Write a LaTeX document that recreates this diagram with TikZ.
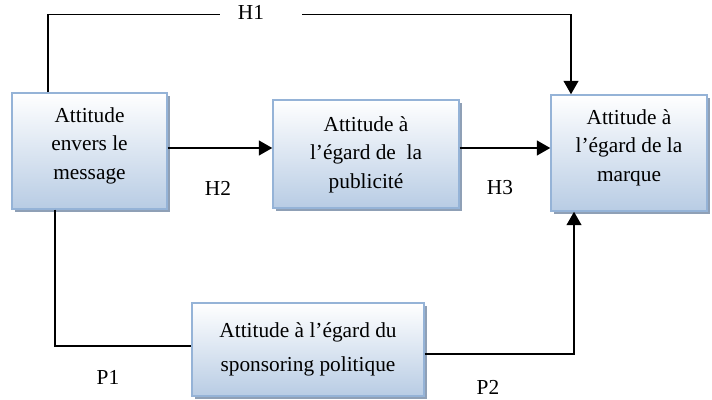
\documentclass[tikz,border=0pt]{standalone}
\usepackage{fontspec}
\setmainfont{Liberation Serif}
\usetikzlibrary{arrows.meta,shadows,calc}
\definecolor{boxborder}{HTML}{95B3D7}
\definecolor{boxbottom}{HTML}{B8CCE4}
\definecolor{boxshadow}{HTML}{8FA0B6}
\tikzset{
  box/.style={draw=boxborder, line width=1.1pt, top color=white, bottom color=boxbottom,
    drop shadow={shadow xshift=2.5pt, shadow yshift=-2.5pt, fill=boxshadow, opacity=1},
    align=center, inner sep=0pt, font=\fontsize{16pt}{21.4pt}\selectfont},
  conn/.style={line width=1.4pt, draw=black},
  arr/.style={conn, -{Triangle[width=11pt,length=10pt]}},
  lab/.style={font=\fontsize{16pt}{19pt}\selectfont, inner sep=0pt}
}
\begin{document}
\begin{tikzpicture}[x=0.75pt,y=-0.75pt]
\useasboundingbox[fill=white] (0,0) rectangle (712,399);
\node[box, minimum width=116.25pt, minimum height=87pt] (b1) at (89.5,151)
  {\raisebox{4.5pt}[\height][\depth]{\begin{tabular}{@{}c@{}}Attitude\\envers le\\message\end{tabular}}};
\node[box, minimum width=139.5pt, minimum height=81pt] (b2) at (366,154)
  {\begin{tabular}{@{}c@{}}Attitude à\\l’égard de\ \ la\\publicité\end{tabular}};
\node[box, minimum width=117pt, minimum height=87pt] (b3) at (629,153)
  {\raisebox{4.5pt}[\height][\depth]{\begin{tabular}{@{}c@{}}Attitude à\\l’égard de la\\marque\end{tabular}}};
\node[box, minimum width=174pt, minimum height=69.75pt, font=\fontsize{16pt}{26pt}\selectfont] (b4) at (308,349.5)
  {\raisebox{1.5pt}[\height][\depth]{\begin{tabular}{@{}c@{}}Attitude à l’égard du\\sponsoring politique\end{tabular}}};

\coordinate (h1a) at (220,14.5);
\coordinate (h1b) at (302,14.5);
\draw[conn] (b1.north -| 48,0) |- (h1a);
\draw[arr] (h1b) -| (b3.north -| 571,0);
\draw[arr] (b1.east |- 0,148) -- (b2.west |- 0,148);
\draw[arr] (b2.east |- 0,148) -- (b3.west |- 0,148);
\draw[conn] (b1.south -| 55,0) |- (b4.west |- 0,346);
\draw[arr] (b4.east |- 0,354) -| (b3.south -| 574,0);

\node[lab] (lh1) at (251,12) {H1};
\node[lab] (lh2) at (218,188) {H2};
\node[lab] (lh3) at (500,188) {H3};
\node[lab] (lp1) at (108,377) {P1};
\node[lab] (lp2) at (488,387) {P2};
\end{tikzpicture}
\end{document}
